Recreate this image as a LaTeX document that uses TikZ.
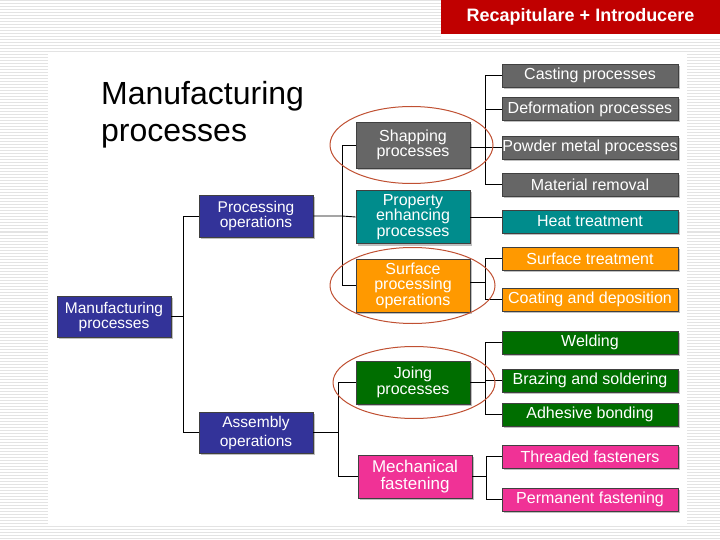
\documentclass[tikz,border=0pt]{standalone}
\usepackage{fontspec}
\setmainfont{Liberation Sans}
\usetikzlibrary{shadows}

\definecolor{opblue}{RGB}{51,51,153}
\definecolor{shapgray}{RGB}{102,102,102}
\definecolor{propteal}{RGB}{0,140,140}
\definecolor{surforange}{RGB}{255,153,0}
\definecolor{joingreen}{RGB}{0,110,0}
\definecolor{mechpink}{RGB}{240,50,150}
\definecolor{ringred}{RGB}{192,80,50}
\definecolor{bannerred}{RGB}{192,0,0}

\begin{document}
\begin{tikzpicture}[x=1pt, y=-1pt,
  box/.style={draw=black!75, line width=0.8pt, text=white, align=center, inner sep=0pt,
    drop shadow={shadow xshift=2pt, shadow yshift=-2pt, opacity=0.5}},
  leafbox/.style={box, minimum width=176pt, minimum height=23pt, font=\fontsize{16}{16}\selectfont},
  grpbox/.style={box, minimum width=114pt, font=\fontsize{16}{15.5}\selectfont},
  opbox/.style={box, fill=opblue, minimum width=114pt, minimum height=41pt, font=\fontsize{15.5}{15}\selectfont},
  link/.style={line width=0.9pt},
  hilite/.style={draw=ringred, line width=1pt},
  stripe/.style={gray!22, line width=1pt}]

  \useasboundingbox (0,0) rectangle (720,540);

  % --- 1. fond raye + panneau blanc ---
  \foreach \y in {1,4,...,538}
    \draw[stripe] (0,\y) -- (720,\y);
  \fill[white] (48,52) rectangle (687,524);
  \fill[white] (441,34) rectangle (720,37);

  % --- 2. bandeau ---
  \node[fill=bannerred, text=white, minimum width=279pt, minimum height=34pt, inner sep=0pt,
    font=\fontsize{18}{18}\selectfont\bfseries] (banner) at (580.5,17) {Recapitulare + Introducere};

  % --- 3. titre ---
  \node[anchor=north west, inner sep=0pt, align=left, font=\fontsize{32}{37}\selectfont]
    (title) at (101,81) {Manufacturing\\processes};

  % --- 4. niveaux 1 et 2 ---
  \node[opbox] (mfg) at (114,316.5) {Manufacturing\\processes};
  \node[opbox, minimum height=42pt] (proc) at (256,216) {Processing\\operations};
  \node[opbox, font=\fontsize{15.5}{19}\selectfont] (asm) at (256,432.5) {Assembly\\operations};

  % --- 5. groupes ---
  \node[grpbox, fill=shapgray, minimum height=46pt] (shap) at (413,145) {Shapping\\processes};
  \node[grpbox, fill=propteal, minimum height=53pt] (prop) at (413,217) {Property\\enhancing\\processes};
  \node[grpbox, fill=surforange, minimum height=53pt] (surf) at (413,285.5) {Surface\\processing\\operations};
  \node[grpbox, fill=joingreen, minimum height=43pt] (join) at (413,382.5) {Joing\\processes};
  \node[grpbox, fill=mechpink, minimum height=43pt, font=\fontsize{17}{16.5}\selectfont] (mech) at (415,476.5) {Mechanical\\fastening};

  % --- 6. feuilles ---
  \node[leafbox, fill=shapgray] (cast) at (590,75.5) {Casting processes};
  \node[leafbox, fill=shapgray] (deform) at (590,109) {Deformation processes};
  \node[leafbox, fill=shapgray] (powder) at (590,147.5) {Powder metal processes};
  \node[leafbox, fill=shapgray] (matrem) at (590,184.5) {Material removal};
  \node[leafbox, fill=propteal] (heat) at (590,221.5) {Heat treatment};
  \node[leafbox, fill=surforange] (surft) at (590,258.5) {Surface treatment};
  \node[leafbox, fill=surforange] (coat) at (590,299.5) {Coating and deposition};
  \node[leafbox, fill=joingreen] (weld) at (590,342.5) {Welding};
  \node[leafbox, fill=joingreen] (braze) at (590,380.5) {Brazing and soldering};
  \node[leafbox, fill=joingreen] (adhes) at (590,414.5) {Adhesive bonding};
  \node[leafbox, fill=mechpink] (thread) at (590,456.5) {Threaded fasteners};
  \node[leafbox, fill=mechpink] (perm) at (590,499.5) {Permanent fastening};

  % --- 7. liaisons ---
  \coordinate (rootsp) at (183,316.5);
  \coordinate (procsp) at (342,216);
  \coordinate (asmsp) at (338,432.5);
  \coordinate (shapsp) at (485,147);
  \coordinate (surfsp) at (485,282);
  \coordinate (joinsp) at (485,382.5);
  \coordinate (mechsp) at (486,476.5);

  \draw[link] (mfg.east) -- (rootsp);
  \foreach \n in {proc,asm}
    \draw[link] (\n.west) -| (rootsp);

  \draw[link] (proc.east) -- (procsp) -- (prop.west);
  \foreach \n in {shap,surf}
    \draw[link] (\n.west) -| (procsp);

  \draw[link] (asm.east) -- (asmsp);
  \foreach \n in {join,mech}
    \draw[link] (\n.west) -| (asmsp);

  \draw[link] (shap.east |- shapsp) -- (shapsp);
  \foreach \n in {cast,deform,powder,matrem}
    \draw[link] (\n.west) -| (shapsp);

  \draw[link] (prop.east) -- (prop.east -| heat.west);

  \draw[link] (surf.east |- surfsp) -- (surfsp);
  \foreach \n in {surft,coat}
    \draw[link] (\n.west) -| (surfsp);

  \draw[link] (join.east) -- (joinsp);
  \foreach \n in {weld,braze,adhes}
    \draw[link] (\n.west) -| (joinsp);

  \draw[link] (mech.east) -- (mechsp);
  \foreach \n in {thread,perm}
    \draw[link] (\n.west) -| (mechsp);

  % --- 8. ellipses de mise en evidence ---
  \draw[hilite] ([xshift=-1.5pt]shap.center) ellipse [x radius=81.5pt, y radius=38.5pt];
  \draw[hilite] ([xshift=-0.5pt]surf.center) ellipse [x radius=82.5pt, y radius=38pt];
  \draw[hilite] ([xshift=1pt]join.center) ellipse [x radius=81pt, y radius=36pt];

\end{tikzpicture}
\end{document}
